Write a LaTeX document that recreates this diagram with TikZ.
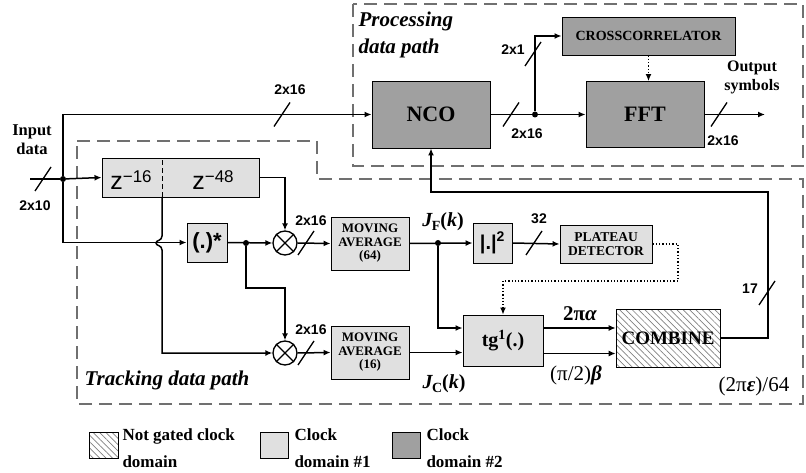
\documentclass[tikz,border=0pt]{standalone}
\usepackage{fontspec}
\setmainfont{Liberation Serif}
\setsansfont{Liberation Sans}
\usetikzlibrary{arrows.meta,patterns.meta}
\definecolor{domlight}{HTML}{E0E0E0}
\definecolor{domdark}{HTML}{A0A0A0}
\definecolor{frame}{HTML}{707070}
\newcommand{\fs}[1]{\fontsize{#1}{#1}\selectfont}
\newcommand{\jsub}[1]{\textbf{\textit{J}}\kern-1pt\raisebox{-4pt}{\fs{14}\bfseries #1}\textbf{(\textit{k})}}
\tikzset{
  blk/.style={draw=black,line width=0.9pt,inner sep=0pt,align=center},
  light/.style={blk,fill=domlight},
  dark/.style={blk,fill=domdark},
  hatch/.style={blk,pattern={Lines[angle=-45,distance=4.5pt,line width=0.7pt]},pattern color=gray},
  wire/.style={line width=1.5pt,-{Latex[length=7pt,width=6pt]}},
  ctrl/.style={line width=1.3pt,dotted,-{Latex[length=7pt,width=6pt]}},
  dot/.style={circle,fill=black,inner sep=0pt,minimum size=6pt},
  mult/.style={circle,draw,line width=1.3pt,minimum size=24pt,inner sep=0pt},
  bw/.style={font=\sffamily\bfseries\fs{14}},
  legtext/.style={anchor=west,align=left,font=\bfseries\fontsize{17}{27}\selectfont},
  clkframe/.style={draw=frame,line width=1.6pt,dash pattern=on 13pt off 7pt},
  bus/.pic={\draw[line width=1.3pt] (-8,12)--(8,-12);}
}
\begin{document}
\begin{tikzpicture}[x=1pt,y=-1pt]
  \useasboundingbox (0,0) rectangle (806,473);
  % clock domain frames
  \draw[clkframe] (353,4) rectangle (803,166);
  \draw[clkframe] (77,141) -- (317,141) -- (317,179) -- (803,179) -- (803,404) -- (77,404) -- cycle;
  \node[anchor=west,align=left,font=\bfseries\itshape\fontsize{21}{27}\selectfont] (ptitle) at (355,35) {Processing\\data path};
  \node[anchor=west,font=\bfseries\itshape\fs{21}] (ttitle) at (81,380) {Tracking data path};

  % processing blocks
  \node[dark,minimum width=118,minimum height=67,font=\bfseries\fs{22}] (nco) at (431,114.5) {NCO};
  \node[dark,minimum width=118,minimum height=66,font=\bfseries\fs{22}] (fft) at (645,114.5) {FFT};
  \node[dark,minimum width=173,minimum height=38,font=\bfseries\fs{14}] (xcorr) at (648.5,36) {CROSSCORRELATOR};

  % tracking blocks
  \node[light,minimum width=157,minimum height=39] (zdel) at (180.5,177.5) {};
  \coordinate (zs) at (162,197);
  \draw[line width=1pt,dash pattern=on 5pt off 3pt] (zs) -- (162,158);
  \node[font=\sffamily\fs{25}] (z16) at (131,180) {z\raisebox{7pt}{\fs{17}\textminus16}};
  \node[font=\sffamily\fs{25}] (z48) at (213,180) {z\raisebox{7pt}{\fs{17}\textminus48}};
  \node[light,minimum width=40,minimum height=39,font=\sffamily\bfseries\fs{22}] (conj) at (207,242.5) {(.)*};
  \node[mult] (m1) at (285,243) {};
  \node[mult] (m2) at (285,353) {};
  \foreach \m in {m1,m2}{
    \draw[line width=1.3pt] (\m.north west) -- (\m.south east) (\m.north east) -- (\m.south west);
  }
  \node[light,minimum width=78,minimum height=53,font=\bfseries\fontsize{13}{13.5}\selectfont] (ma64) at (370,243.5) {MOVING\\AVERAGE\\(64)};
  \node[light,minimum width=78,minimum height=53,font=\bfseries\fontsize{13}{13.5}\selectfont] (ma16) at (370,352.5) {MOVING\\AVERAGE\\(16)};
  \node[light,minimum width=39,minimum height=40,font=\sffamily\bfseries\fs{20}] (abs) at (492.5,243) {|.|\textsuperscript{2}};
  \node[light,minimum width=92,minimum height=38,font=\bfseries\fs{13.5}] (plat) at (606,244) {PLATEAU\\DETECTOR};
  \node[light,minimum width=80,minimum height=51,font=\bfseries\fs{20}] (atan) at (503,340.5) {tg\textsuperscript{1}(.)};
  \node[hatch,minimum width=104,minimum height=58,font=\bfseries\fs{19}] (comb) at (668,338) {COMBINE};

  % input side
  \coordinate (in) at (30,179);
  \node[dot] (jin) at (63,179) {};
  \draw[line width=1.5pt] (in) -- (jin);
  \draw[wire] (jin) -- (zdel.west);
  \draw[wire] (jin) |- (nco.west);
  \draw[wire] (jin) |- (conj.west);
  \pic at (43,179) {bus};
  \pic at (282,114.5) {bus};
  \node[align=center,font=\bfseries\fontsize{16.5}{19}\selectfont] (inlbl) at (32,140) {Input\\data};
  \node[bw] (w10) at (35,206) {2x10};
  \node[bw] (w16a) at (290,90) {2x16};

  % multipliers
  \draw[wire] (zdel.east) -| (m1.north);
  \draw[wire] (zs) -- (162,236) .. controls (162,241) and (156,240) .. (156,243)
    .. controls (156,246) and (162,245) .. (162,250) |- (m2.west);
  \draw[wire] (conj.east) -- (m1.west);
  \node[dot] (jc) at (246,243) {};
  \draw[wire] (jc) |- (265,288) -| (m2.north);
  \draw[wire] (m1.east) -- (ma64.west);
  \draw[wire] (m2.east) -- (ma16.west);
  \pic at (306,243) {bus};
  \pic at (306,353) {bus};
  \node[bw] (w16b) at (311,221) {2x16};
  \node[bw] (w16c) at (311,330) {2x16};

  % angle estimation
  \draw[wire] (ma64.east) -- (abs.west);
  \node[dot] (jf) at (438,243) {};
  \node[font=\fs{20}] (jflbl) at (443,222) {\jsub{F}};
  \draw[wire] (jf) |- ([yshift=12.5pt]atan.west);
  \draw[wire] (ma16.east) -- (ma16.east -| atan.west);
  \node[font=\fs{20}] (jclbl) at (444,384) {\jsub{C}};
  \draw[wire] (abs.east) -- (plat.west);
  \pic at (534,243) {bus};
  \node[bw] (w32) at (539,219) {32};
  \draw[ctrl] (plat.east) -- (678,244) -- (678,281) -| (atan.north);
  \draw[wire] ([yshift=12.5pt]atan.east) -- ([yshift=12.5pt]atan.east -| comb.west);
  \draw[wire] ([yshift=-13pt]atan.east) -- ([yshift=-13pt]atan.east -| comb.west);
  \node[font=\bfseries\fs{21}] (albl) at (580,314) {2π\textit{α}};
  \node[font=\fs{21}] (blbl) at (576,375) {(π/2)\textbf{\textit{β}}};
  \node[font=\fs{21}] (elbl) at (754,386) {(2π\textbf{\textit{ε}})/64};

  % feedback to NCO
  \draw[wire] (comb.east) -| (768,192) -| (nco.south);
  \pic at (767,293) {bus};
  \node[bw] (w17) at (750,289) {17};

  % processing path
  \node[dot] (jn) at (535,114.5) {};
  \draw[wire] (nco.east) -- (fft.west);
  \pic at (511,114.5) {bus};
  \node[bw] (w16d) at (527,134) {2x16};
  \draw[wire] (jn) |- (xcorr.west);
  \pic at (533,54) {bus};
  \node[bw] (w1) at (513,50) {2x1};
  \draw[ctrl] (xcorr.south) -- (xcorr.south |- fft.north);
  \coordinate (out) at (765,114.5);
  \draw[wire] (fft.east) -- (out);
  \pic at (719,114.5) {bus};
  \node[bw] (w16e) at (723,141) {2x16};
  \node[align=center,font=\bfseries\fontsize{16}{19}\selectfont] (outlbl) at (752,77) {Output\\symbols};

  % legend
  \node[hatch,minimum width=29,minimum height=26] (lg1) at (103.5,445) {};
  \node[legtext] (lt1) at (119,448) {Not gated clock\\domain};
  \node[light,minimum width=28,minimum height=26] (lg2) at (274,445) {};
  \node[legtext] (lt2) at (291,448) {Clock\\domain \#1};
  \node[dark,minimum width=28,minimum height=26] (lg3) at (406,445) {};
  \node[legtext] (lt3) at (423,448) {Clock\\domain \#2};
\end{tikzpicture}
\end{document}
